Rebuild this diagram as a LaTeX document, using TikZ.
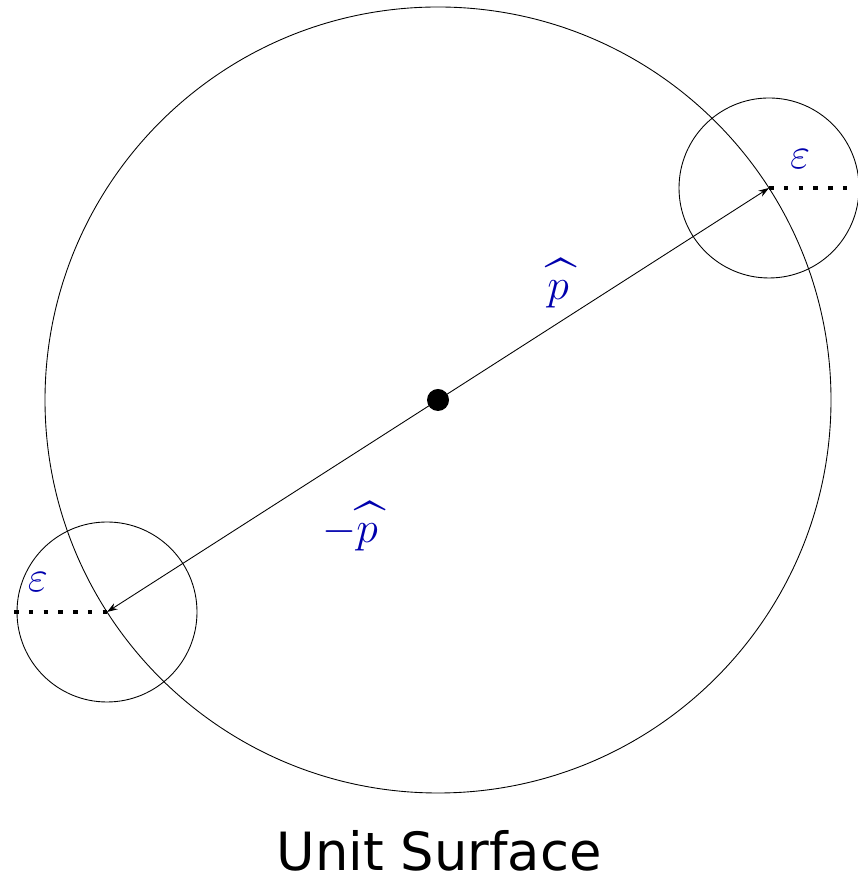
\documentclass[tikz,border=0pt]{standalone}
\usepackage{amsmath,amssymb}
\usepackage{fontspec}
\usepackage{xcolor}
\usetikzlibrary{arrows.meta, positioning, calc}
\newfontfamily\titlefont{DejaVu Sans}
\tikzset{
  lbl/.style={text=blue!68!black, font=\fontsize{32}{36}\selectfont, inner sep=0pt},
  ctr/.style={circle, fill=black, inner sep=0pt, minimum size=4.4mm},
  vec/.style={-{Stealth[length=6pt, width=4pt]}, line width=0.5pt},
  eps/.style={line width=2.6pt, dash pattern=on 2.6pt off 5.8pt},
  surf/.style={line width=0.5pt}
}
\begin{document}
\begin{tikzpicture}
        \useasboundingbox (0,0) rectangle (17.14,17.62);
        \node[ctr] (o) at (8.76,9.62) {};
        \draw[surf] (o.center) circle (7.86);
        \coordinate (pr) at (15.38,13.86);
        \coordinate (pl) at (2.14,5.38);
        \draw[surf] (pr) circle (1.8);
        \draw[surf] (pl) circle (1.8);
        \draw[vec] (o.center) -- (pr);
        \draw[vec] (o.center) -- (pl);
        \coordinate (er) at (17.1,13.86);
        \coordinate (el) at (0.28,5.38);
        \draw[eps] (pr) -- (er);
        \draw[eps] (el) -- (pl);
        \node[lbl] (phat) at (11.16,11.96) {$\widehat{p}$};
        \node[lbl] (mphat) at (7.0,7.1) {$-\widehat{p}$};
        \node[lbl] (epsr) at (16.0,14.44) {$\varepsilon$};
        \node[lbl] (epsl) at (0.76,5.98) {$\varepsilon$};
        \node[inner sep=0pt, font=\fontsize{30}{34}\selectfont\titlefont] (title) at (8.78,0.6) {Unit Surface};
      \end{tikzpicture}
\end{document}
